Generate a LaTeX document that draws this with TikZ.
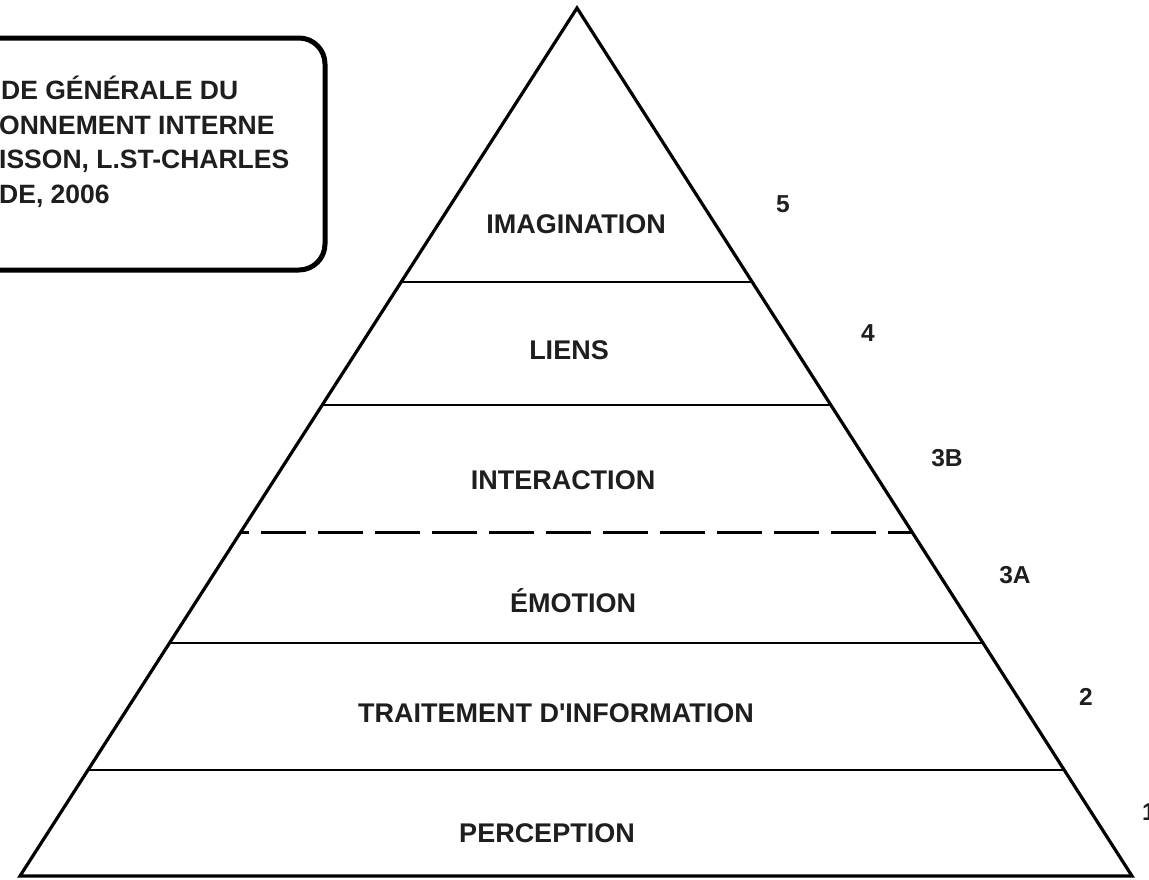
\documentclass[tikz,border=0pt]{standalone}
\usepackage{fontspec}
\setmainfont{Liberation Sans}
\usetikzlibrary{calc}
\definecolor{ink}{HTML}{1E1E1E}
\tikzset{
  lvl/.style={font=\fontsize{27}{32}\selectfont\bfseries, text=ink, inner sep=0pt, anchor=center},
  num/.style={font=\fontsize{24.5}{29}\selectfont\bfseries, text=ink, inner sep=0pt, anchor=center},
  boxtxt/.style={font=\fontsize{26.5}{31}\selectfont\bfseries, text=ink, inner sep=0pt, anchor=base west},
  edge/.style={line width=3.2pt, line join=miter, black},
  divider/.style={line width=2.8pt, black},
  dividerdash/.style={line width=3pt, black, dash pattern=on 45pt off 12pt, dash phase=36pt},
}
\begin{document}
\begin{tikzpicture}[x=1pt,y=-1pt]
\useasboundingbox (0,0) rectangle (1149,879);
\fill[white] (0,0) rectangle (1149,879);
\begin{scope}
\clip (0,0) rectangle (1149,879);
% legend box
\draw[line width=5pt, rounded corners=26pt, black] (-40,38) rectangle (325,270);
\node[boxtxt] (t1) at (1,99) {DE GÉNÉRALE DU};
\node[boxtxt] (t2) at (-1,134) {ONNEMENT INTERNE};
\node[boxtxt] (t3) at (-1,168) {ISSON, L.ST-CHARLES};
\node[boxtxt] (t4) at (-1,203) {DE, 2006};
% pyramid
\coordinate (A) at (577,8);
\coordinate (BL) at (20,876);
\coordinate (BR) at (1132,876);
\foreach \n/\t in {1/0.3157, 2/0.4574, 3/0.6048, 4/0.7316, 5/0.8779}{
  \coordinate (L\n) at ($(A)!\t!(BL)$);
  \coordinate (R\n) at ($(A)!\t!(BR)$);
}
\draw[divider] (L1) -- (R1);
\draw[divider] (L2) -- (R2);
\draw[dividerdash] (L3) -- (R3);
\draw[divider] (L4) -- (R4);
\draw[divider] (L5) -- (R5);
\draw[edge] (BL) -- (A) -- (BR) -- cycle;
% labels
\node[lvl] (imag) at (576,224) {IMAGINATION};
\node[lvl] (liens) at (569,350) {LIENS};
\node[lvl] (inter) at (563,480) {INTERACTION};
\node[lvl] (emot) at (573,601) {ÉMOTION};
\node[lvl] (trait) at (556,713) {TRAITEMENT D\textquotesingle INFORMATION};
\node[lvl] (perc) at (547,833) {PERCEPTION};
% numbers
\node[num] (n5) at (783,204) {5};
\node[num] (n4) at (868,333) {4};
\node[num] (n3b) at (947,458) {3B};
\node[num] (n3a) at (1015,575) {3A};
\node[num] (n2) at (1086,697) {2};
\node[num] (n1) at (1149,812) {1};
\end{scope}
\end{tikzpicture}
\end{document}
